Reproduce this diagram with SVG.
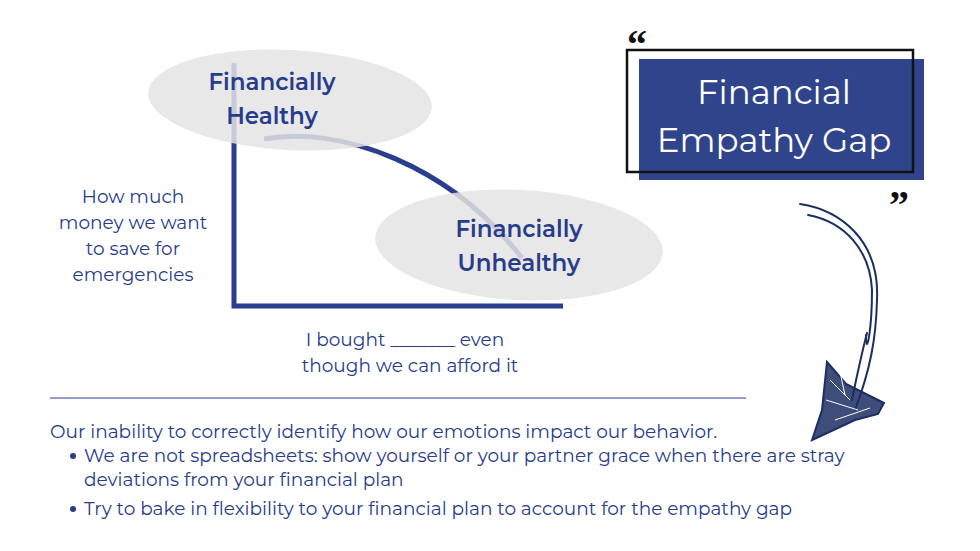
<svg xmlns="http://www.w3.org/2000/svg" width="980" height="551" viewBox="0 0 980 551">
<style>
.t{font-family:Montserrat,"Open Sans","Liberation Sans",sans-serif;fill:#283c8c}
.b{font-weight:600;font-size:23px}
.s{font-size:18.5px}
.ax{stroke:#2a3d8f;stroke-width:5;fill:none}
.ell{fill:#e4e4e4;fill-opacity:0.85}
.arr{stroke:#1d2e63;fill:none;stroke-width:2;stroke-linecap:round}
</style>
<rect width="980" height="551" fill="#fff"/>
<g id="chart">
<path class="ax" d="M234,63 V306 H563"/>
<path class="ax" d="M264,139 C340,125 450,165 522,258"/>
</g>
<g id="healthy">
<ellipse class="ell" cx="290" cy="100" rx="142" ry="50" transform="rotate(3 290 100)"/>
<text class="t b" x="272" y="90" text-anchor="middle">Financially</text>
<text class="t b" x="272" y="124" text-anchor="middle">Healthy</text>
</g>
<g id="unhealthy">
<ellipse class="ell" cx="519" cy="245" rx="144" ry="55" transform="rotate(3 519 245)"/>
<text class="t b" x="519" y="237" text-anchor="middle">Financially</text>
<text class="t b" x="519" y="271" text-anchor="middle">Unhealthy</text>
</g>
<g id="ylabel" class="t s" text-anchor="middle">
<text x="133" y="203">How much</text>
<text x="133" y="229">money we want</text>
<text x="133" y="255">to save for</text>
<text x="133" y="281">emergencies</text>
</g>
<g id="xlabel" class="t s" text-anchor="middle">
<text x="405" y="346">I bought _______ even</text>
<text x="410" y="372">though we can afford it</text>
</g>
<g id="title">
<rect x="639" y="59" width="285" height="121" fill="#30448c"/>
<rect x="627" y="50" width="286" height="122" fill="none" stroke="#111" stroke-width="2.5"/>
<text x="774" y="104" font-family="Montserrat,'Open Sans','Liberation Sans',sans-serif" font-size="34" fill="#fff" text-anchor="middle">Financial</text>
<text x="774" y="152" font-family="Montserrat,'Open Sans','Liberation Sans',sans-serif" font-size="34" fill="#fff" text-anchor="middle">Empathy Gap</text>
<text x="627" y="58" font-family="'Liberation Serif',serif" font-weight="bold" font-size="40" fill="#111">“</text>
<text x="889" y="218" font-family="'Liberation Serif',serif" font-weight="bold" font-size="40" fill="#111">”</text>
</g>
<g id="connectors">
<path class="arr" d="M800,204 C840,210 880,240 877,300 C876,340 870,370 855,410"/>
<path class="arr" d="M808,215 C845,222 870,250 872,290 C872,330 866,360 866,335"/>
<path class="arr" d="M867,333 C860,360 856,380 852,400"/>
<path fill="#1d2e63" fill-opacity="0.85" stroke="#1d2e63" stroke-width="2" d="M827,362 L846,384 L884,403 L878,414 L855,420 L812,440 L822,410 Z"/>
<path stroke="#fff" stroke-width="1" fill="none" d="M830,380 L850,400 M826,400 L858,410 M835,420 L870,408 M840,372 L845,395"/>
</g>
<line x1="50" y1="398" x2="746" y2="398" stroke="#2a3d8f" stroke-width="1.2"/>
<g id="body" class="t s">
<text x="50" y="438">Our inability to correctly identify how our emotions impact our behavior.</text>
<circle cx="73" cy="456" r="3" fill="#283c8c"/>
<text x="84" y="462">We are not spreadsheets: show yourself or your partner grace when there are stray</text>
<text x="84" y="486">deviations from your financial plan</text>
<circle cx="73" cy="509" r="3" fill="#283c8c"/>
<text x="84" y="515">Try to bake in flexibility to your financial plan to account for the empathy gap</text>
</g>
</svg>
